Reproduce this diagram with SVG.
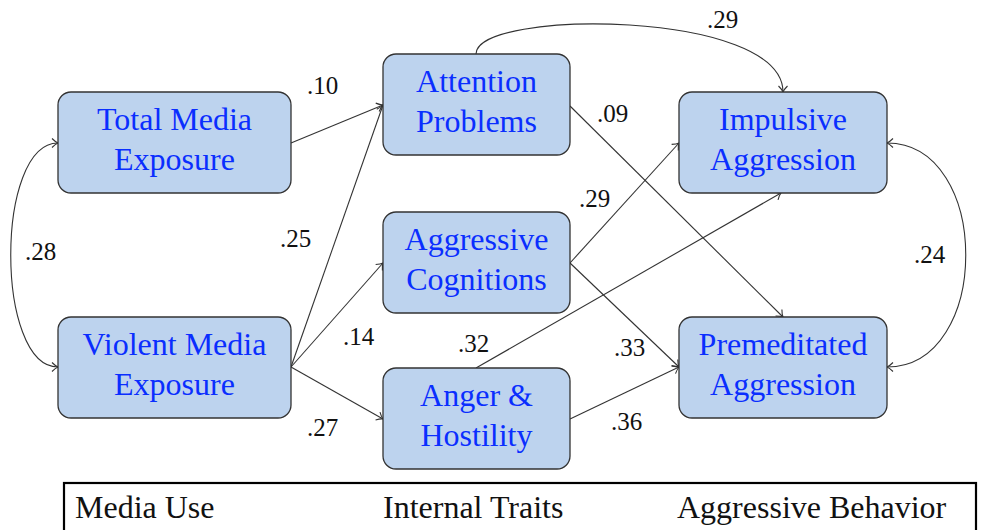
<svg xmlns="http://www.w3.org/2000/svg" width="982" height="530" viewBox="0 0 982 530">
<defs>
<marker id="arr" viewBox="-8 -6 10 12" refX="0" refY="0" markerWidth="10" markerHeight="12" markerUnits="userSpaceOnUse" orient="auto-start-reverse">
<path d="M -6 -4.5 Q -2.5 -1 0 0 Q -2.5 1 -6 4.5" fill="none" stroke="#333" stroke-width="1.1"/>
</marker>
</defs>
<rect width="982" height="530" fill="#fff"/>
<g id="connectors" fill="none" stroke="#333" stroke-width="1.1" marker-end="url(#arr)">
<path d="M 291 143 L 383 105"/>
<path d="M 291 367 L 383 105"/>
<path d="M 291 367 L 383 263"/>
<path d="M 291 367 L 383 419"/>
<path d="M 570 106 L 783 317"/>
<path d="M 570 263 L 679 143"/>
<path d="M 570 263 L 679 367"/>
<path d="M 476 368 L 781 193"/>
<path d="M 570 419 L 679 367"/>
<path d="M 476 54 C 476 9, 783 9, 783 92"/>
<path marker-start="url(#arr)" d="M 58 143 C -5 143, -5 367, 58 367"/>
<path marker-start="url(#arr)" d="M 887 143 C 992 143, 992 367, 887 367"/>
</g>
<g id="labels" font-family="Times New Roman" font-size="25" fill="#111">
<text font-family="Times New Roman" x="307" y="94">.10</text>
<text font-family="Times New Roman" x="280" y="247">.25</text>
<text font-family="Times New Roman" x="25" y="260">.28</text>
<text font-family="Times New Roman" x="343" y="345">.14</text>
<text font-family="Times New Roman" x="307" y="436">.27</text>
<text font-family="Times New Roman" x="458" y="352">.32</text>
<text font-family="Times New Roman" x="597" y="122">.09</text>
<text font-family="Times New Roman" x="707" y="28">.29</text>
<text font-family="Times New Roman" x="579" y="207">.29</text>
<text font-family="Times New Roman" x="914" y="263">.24</text>
<text font-family="Times New Roman" x="614" y="356">.33</text>
<text font-family="Times New Roman" x="611" y="430">.36</text>
</g>
<g id="total-media">
<rect fill="#bdd3ee" stroke="#333" stroke-width="1.3" x="58" y="92" width="233" height="101" rx="13"/>
<text font-family="Times New Roman" font-size="32" text-anchor="middle" fill="#0a2eff" x="174.5" y="130">Total Media</text>
<text font-family="Times New Roman" font-size="32" text-anchor="middle" fill="#0a2eff" x="174.5" y="170">Exposure</text>
</g>
<g id="violent-media">
<rect fill="#bdd3ee" stroke="#333" stroke-width="1.3" x="58" y="317" width="233" height="101" rx="13"/>
<text font-family="Times New Roman" font-size="32" text-anchor="middle" fill="#0a2eff" x="174.5" y="355">Violent Media</text>
<text font-family="Times New Roman" font-size="32" text-anchor="middle" fill="#0a2eff" x="174.5" y="395">Exposure</text>
</g>
<g id="attention">
<rect fill="#bdd3ee" stroke="#333" stroke-width="1.3" x="383" y="54" width="187" height="101" rx="13"/>
<text font-family="Times New Roman" font-size="32" text-anchor="middle" fill="#0a2eff" x="476.5" y="92">Attention</text>
<text font-family="Times New Roman" font-size="32" text-anchor="middle" fill="#0a2eff" x="476.5" y="132">Problems</text>
</g>
<g id="cognitions">
<rect fill="#bdd3ee" stroke="#333" stroke-width="1.3" x="383" y="212" width="187" height="101" rx="13"/>
<text font-family="Times New Roman" font-size="32" text-anchor="middle" fill="#0a2eff" x="476.5" y="250">Aggressive</text>
<text font-family="Times New Roman" font-size="32" text-anchor="middle" fill="#0a2eff" x="476.5" y="290">Cognitions</text>
</g>
<g id="anger">
<rect fill="#bdd3ee" stroke="#333" stroke-width="1.3" x="383" y="368" width="187" height="101" rx="13"/>
<text font-family="Times New Roman" font-size="32" text-anchor="middle" fill="#0a2eff" x="476.5" y="406">Anger &amp;</text>
<text font-family="Times New Roman" font-size="32" text-anchor="middle" fill="#0a2eff" x="476.5" y="446">Hostility</text>
</g>
<g id="impulsive">
<rect fill="#bdd3ee" stroke="#333" stroke-width="1.3" x="679" y="92" width="208" height="101" rx="13"/>
<text font-family="Times New Roman" font-size="32" text-anchor="middle" fill="#0a2eff" x="783" y="130">Impulsive</text>
<text font-family="Times New Roman" font-size="32" text-anchor="middle" fill="#0a2eff" x="783" y="170">Aggression</text>
</g>
<g id="premeditated">
<rect fill="#bdd3ee" stroke="#333" stroke-width="1.3" x="679" y="317" width="208" height="101" rx="13"/>
<text font-family="Times New Roman" font-size="32" text-anchor="middle" fill="#0a2eff" x="783" y="355">Premeditated</text>
<text font-family="Times New Roman" font-size="32" text-anchor="middle" fill="#0a2eff" x="783" y="395">Aggression</text>
</g>
<g id="legend">
<rect x="64" y="483" width="912" height="60" fill="none" stroke="#000" stroke-width="2.2"/>
<text font-family="Times New Roman" font-size="32" fill="#111" x="75" y="518">Media Use</text>
<text font-family="Times New Roman" font-size="32" fill="#111" x="383" y="518">Internal Traits</text>
<text font-family="Times New Roman" font-size="32" fill="#111" x="677" y="518">Aggressive Behavior</text>
</g>
</svg>
